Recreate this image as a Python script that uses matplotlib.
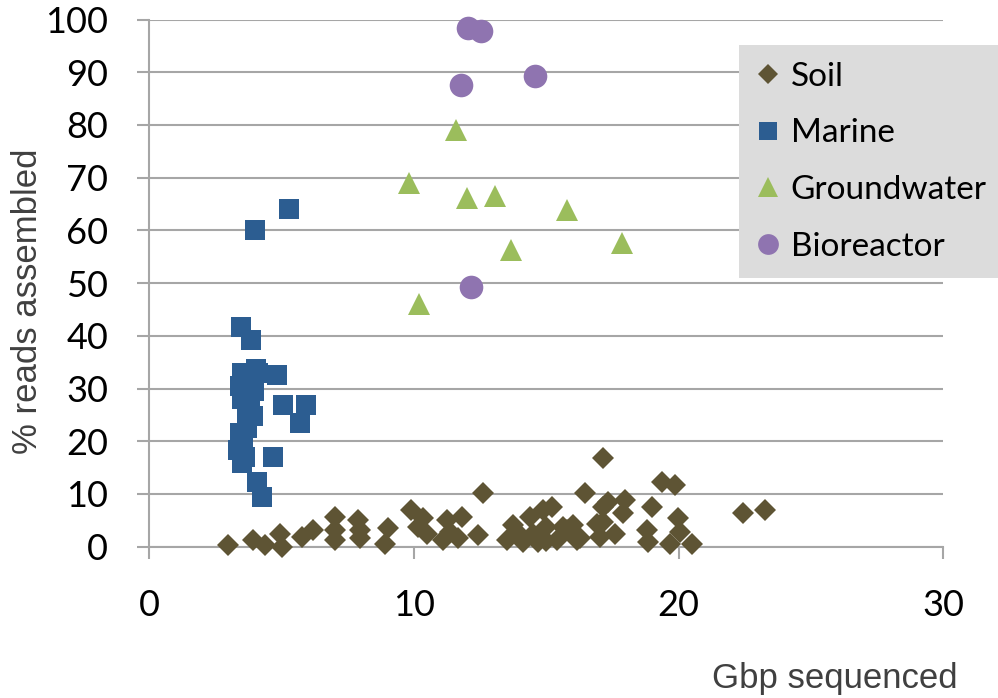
import matplotlib
matplotlib.use("Agg")
import matplotlib.pyplot as plt
from matplotlib.lines import Line2D

# data
soil_x = [2.98, 3.93, 4.37, 4.94, 5.0, 5.76, 6.2, 7.02, 7.02, 7.02, 7.9, 7.96, 7.96,
          9.03, 8.9, 9.9, 10.16, 10.35, 10.48, 11.23, 11.8, 11.36, 11.1, 11.67, 12.43,
          12.62, 13.75, 13.5, 13.9, 14.38, 14.88, 15.2, 14.13, 14.5, 14.7, 15.0, 15.0,
          15.64, 15.39, 16.02, 16.27, 16.9, 17.15, 16.46, 17.15, 19.36, 19.86, 17.34,
          17.97, 17.9, 18.98, 19.98, 17.15, 17.03, 17.6, 18.79, 18.86, 19.67, 20.05,
          20.49, 15.77, 16.15, 22.42, 23.26]
soil_y = [0.3, 1.3, 0.3, 2.5, 0.0, 1.9, 3.2, 5.7, 3.2, 1.3, 5.1, 3.2, 1.6,
          3.5, 0.6, 7.0, 3.8, 5.4, 2.5, 5.1, 5.7, 2.8, 1.3, 1.6, 2.2,
          10.1, 4.1, 1.3, 2.8, 5.7, 7.0, 7.6, 0.9, 2.5, 0.8, 3.8, 1.0,
          3.8, 1.3, 4.1, 1.6, 4.4, 7.6, 10.1, 16.8, 12.3, 11.7, 8.5,
          8.9, 6.3, 7.6, 5.4, 4.7, 1.9, 2.5, 3.2, 0.9, 0.6, 2.8,
          0.6, 3.2, 1.3, 6.3, 7.0]

marine_x = [3.45, 3.84, 4.03, 4.81, 3.49, 3.62, 3.43, 3.6, 3.9, 3.80, 3.7, 5.06, 5.92,
            5.69, 3.93, 3.43, 3.55, 3.36, 3.49, 4.66, 4.06, 4.25, 3.99, 5.28,
            3.5, 3.7, 3.95, 4.1, 3.6]
marine_y = [41.7, 39.2, 33.8, 32.6, 32.9, 32.3, 30.4, 29.0, 31.0, 27.8, 26.0, 26.9, 26.9,
            23.4, 24.7, 21.5, 20.0, 18.3, 15.8, 17.1, 12.3, 9.5, 60.1, 64.0,
            28.0, 22.5, 29.5, 33.0, 17.0]

gw_x = [11.57, 9.83, 12.02, 13.07, 15.77, 17.86, 13.66, 10.2]
gw_y = [79.0, 69.0, 66.1, 66.5, 63.9, 57.7, 56.3, 46.0]

bio_x = [12.05, 12.55, 11.78, 14.56, 12.16]
bio_y = [98.3, 97.8, 87.6, 89.3, 49.3]

labels = ["Soil", "Marine", "Groundwater", "Bioreactor"]
colors = ["#5e5434", "#2c5d91", "#9bbd5c", "#8f74b0"]
markers = ["D", "s", "^", "o"]
sizes = [11.5, 15, 16.5, 17]

grey = "#a6a6a6"
fig = plt.figure(figsize=(9.98, 6.98), dpi=100)
ax = fig.add_axes([149.3 / 998, 1 - 546.7 / 698, (943.3 - 149.3) / 998, (546.7 - 19.5) / 698])

series = [(soil_x, soil_y), (marine_x, marine_y), (gw_x, gw_y), (bio_x, bio_y)]
for (xs, ys), c, m, s in zip(series, colors, markers, sizes):
    ax.plot(xs, ys, linestyle="none", marker=m, markersize=s, color=c,
            markeredgewidth=0, clip_on=False, zorder=3)

ax.set_xlim(0, 30)
ax.set_ylim(0, 100)
ax.set_xticks([0, 10, 20, 30])
ax.set_yticks(range(0, 101, 10))
ax.yaxis.grid(True, color=grey, linewidth=1.5)
ax.set_axisbelow(True)
for side in ["top", "right"]:
    ax.spines[side].set_visible(False)
for side in ["left", "bottom"]:
    ax.spines[side].set_color(grey)
    ax.spines[side].set_linewidth(1.5)
ax.tick_params(axis="both", direction="out", length=8.6, width=1.5, color=grey,
               labelsize=26, labelcolor="black")
ax.tick_params(axis="y", pad=21)
ax.tick_params(axis="x", pad=22)
for lab in ax.get_xticklabels() + ax.get_yticklabels():
    lab.set_family("Lato")

fig.text(27.5 / 998, 1 - 301.5 / 698, "% reads assembled", rotation=90,
         ha="center", va="center", fontsize=25, color="#404040",
         family="Liberation Sans")
fig.text(958 / 998, 1 - 688 / 698, "Gbp sequenced", ha="right", va="baseline",
         fontsize=25, color="#404040", family="Liberation Sans")

handles = [Line2D([], [], linestyle="none", marker=m, markersize=s * 0.88, color=c,
                  markeredgewidth=0)
           for c, m, s in zip(colors, markers, sizes)]
leg = fig.legend(handles, labels, loc="upper left",
                 bbox_to_anchor=(739 / 998, 1 - 45 / 698),
                 prop={"family": "Lato", "size": 24}, frameon=True, fancybox=False,
                 facecolor="#dcdcdc", edgecolor="none", framealpha=1,
                 handlelength=0.75, handletextpad=0.3, labelspacing=0.8,
                 borderpad=0.5, borderaxespad=0)

fig.savefig("out.png", dpi=100)
